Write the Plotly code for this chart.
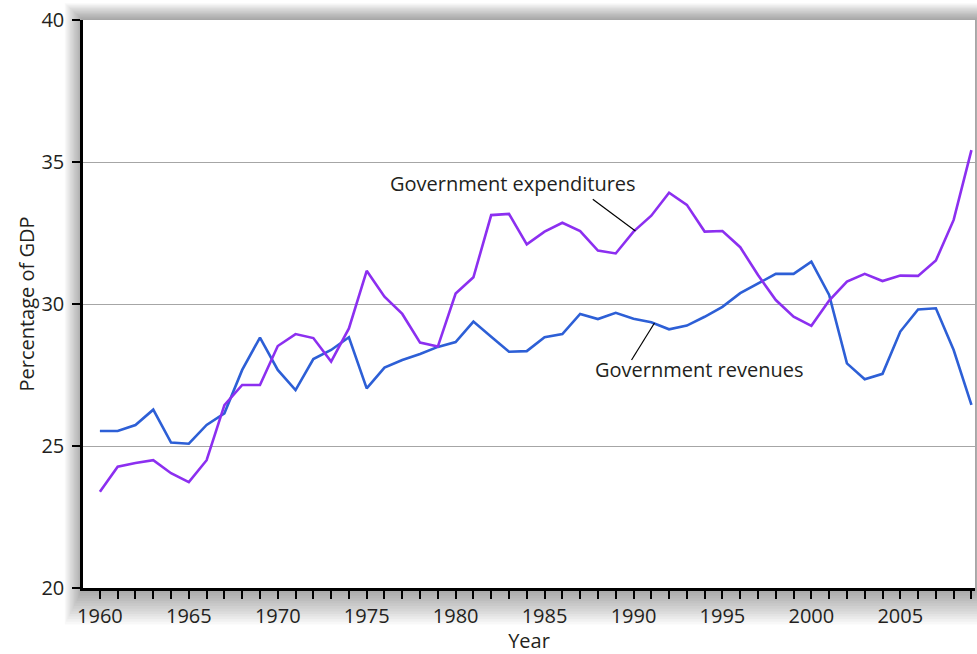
import plotly.graph_objects as go

years = list(range(1960, 2010))
expenditures = [23.39, 24.27, 24.40, 24.50, 24.04, 23.73, 24.50, 26.44, 27.15, 27.15,
                28.52, 28.94, 28.80, 27.97, 29.14, 31.17, 30.26, 29.65, 28.64, 28.50,
                30.37, 30.94, 33.13, 33.17, 32.10, 32.55, 32.86, 32.57, 31.88, 31.78,
                32.55, 33.11, 33.92, 33.49, 32.55, 32.57, 32.00, 31.02, 30.14, 29.55,
                29.23, 30.12, 30.79, 31.06, 30.81, 31.00, 30.99, 31.53, 32.96, 35.42]
revenues = [25.53, 25.53, 25.74, 26.28, 25.12, 25.08, 25.74, 26.15, 27.68, 28.82,
            27.68, 26.97, 28.06, 28.38, 28.83, 27.03, 27.76, 28.03, 28.24, 28.49,
            28.66, 29.38, 28.85, 28.32, 28.34, 28.83, 28.94, 29.65, 29.47, 29.69,
            29.48, 29.36, 29.11, 29.24, 29.55, 29.90, 30.38, 30.73, 31.06, 31.06,
            31.49, 30.32, 27.91, 27.35, 27.54, 29.03, 29.81, 29.85, 28.38, 26.45]
y_ticks = [20, 25, 30, 35, 40]
x_tick_labels = [1960, 1965, 1970, 1975, 1980, 1985, 1990, 1995, 2000, 2005]

FONT = "Open Sans"
FS = 20
TXT = "#231f20"
W, H = 977, 654
ML, MR, MT, MB = 83, 2, 20, 66
PW = W - ML - MR
PH = H - MT - MB

fig = go.Figure()
fig.add_trace(go.Scatter(x=years, y=revenues, mode="lines", name="Government revenues",
                         line=dict(color="#2d5fd6", width=2.6)))
fig.add_trace(go.Scatter(x=years, y=expenditures, mode="lines", name="Government expenditures",
                         line=dict(color="#8c2ff0", width=2.6)))

shapes = []
# soft drop shadow around the plot area
N = 14
for k in range(1, N + 1):
    shapes.append(dict(type="rect", xref="paper", yref="paper", layer="below",
                       x0=-(1.3 * k) / PW, x1=1 + (1.0 * k) / PW,
                       y0=-(2.6 * k) / PH, y1=1 + (1.2 * k) / PH,
                       line=dict(width=0), fillcolor="rgba(0,0,0,0.028)"))
shapes.append(dict(type="rect", xref="paper", yref="paper", layer="below",
                   x0=0, x1=1, y0=0, y1=1, line=dict(width=0), fillcolor="white"))
# pointer lines for labels
shapes.append(dict(type="line", xref="x", yref="y", x0=1987.71, y0=33.69, x1=1990.11, y1=32.57,
                   line=dict(color="black", width=1.2)))
shapes.append(dict(type="line", xref="x", yref="y", x0=1989.89, y0=28.03, x1=1991.18, y1=29.33,
                   line=dict(color="black", width=1.2)))

annotations = [
    dict(x=1983.22, y=34.26, xref="x", yref="y", text="Government expenditures",
         showarrow=False, font=dict(family=FONT, size=FS, color=TXT)),
    dict(x=1993.71, y=27.71, xref="x", yref="y", text="Government revenues",
         showarrow=False, font=dict(family=FONT, size=FS, color=TXT)),
]

fig.update_layout(
    width=W, height=H,
    margin=dict(l=ML, r=MR, t=MT, b=MB),
    paper_bgcolor="white", plot_bgcolor="rgba(0,0,0,0)",
    showlegend=False,
    font=dict(family=FONT, size=FS, color=TXT),
    shapes=shapes, annotations=annotations,
    xaxis=dict(range=[1959.05, 2009.2], tickmode="array", tickvals=x_tick_labels,
               ticktext=[str(v) for v in x_tick_labels],
               ticks="outside", ticklen=8, tickwidth=1.5, tickcolor="black",
               minor=dict(dtick=1, tick0=1960, ticks="outside", ticklen=8, tickwidth=1.5,
                          tickcolor="black", showgrid=False),
               showline=True, linecolor="black", linewidth=2.5, showgrid=False,
               zeroline=False, tickfont=dict(family=FONT, size=FS, color=TXT),
               title=dict(text="Year", standoff=6, font=dict(family=FONT, size=FS, color=TXT))),
    yaxis=dict(range=[20, 40], tickmode="array", tickvals=y_ticks,
               ticks="outside", ticklen=8, tickwidth=1.5, tickcolor="black",
               showline=True, linecolor="black", linewidth=2.5,
               showgrid=True, gridcolor="#a6a6a6", gridwidth=1, zeroline=False,
               tickfont=dict(family=FONT, size=FS, color=TXT), ticklabelstandoff=4,
               title=dict(text="Percentage of GDP", standoff=2,
                          font=dict(family=FONT, size=FS, color=TXT))),
)

fig.write_html("out.html", config={"displayModeBar": False},
               post_script="document.body.style.margin='0';")
